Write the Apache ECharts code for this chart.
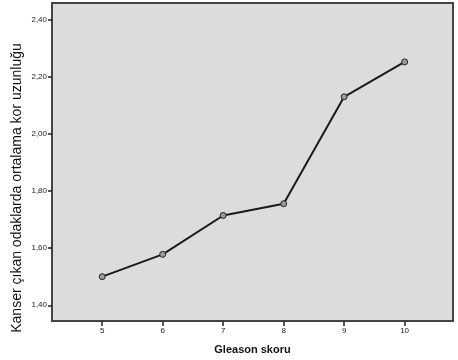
<!DOCTYPE html>
<html><head><meta charset="utf-8">
<script src="https://cdn.jsdelivr.net/npm/echarts@6/dist/echarts.min.js"></script>
<style>html,body{margin:0;padding:0;background:#fff}#c{width:458px;height:360px}</style>
</head><body><div id="c"></div>
<script>
var categories = [5, 6, 7, 8, 9, 10];
var values = [1.500, 1.578, 1.714, 1.755, 2.129, 2.251];
var yTicks = [1.40, 1.60, 1.80, 2.00, 2.20, 2.40];
var xTicks = [5, 6, 7, 8, 9, 10];
var yTitle = 'Kanser çıkan odaklarda ortalama kor uzunluğu';
var xTitle = 'Gleason skoru';

var chart = echarts.init(document.getElementById('c'), null, {renderer:'canvas'});
var data = categories.map(function(c,i){return [c, values[i]];});
chart.setOption({
  animation:false,
  backgroundColor:'#fff',
  grid:{left:52,right:5,top:3,bottom:38,show:true,backgroundColor:'#dcdcdc',borderColor:'#444',borderWidth:2},
  xAxis:{type:'value',min:4.17,max:10.8,
    name:xTitle,nameLocation:'middle',nameGap:23,
    nameTextStyle:{fontFamily:'Liberation Sans',fontSize:11,fontWeight:'bold',color:'#111'},
    axisLine:{show:false},
    axisTick:{show:true,length:5,customValues:xTicks,lineStyle:{color:'#222',width:1.5}},
    axisLabel:{customValues:xTicks,fontSize:8,color:'#222',margin:6,fontFamily:'Liberation Sans'},
    splitLine:{show:false}},
  yAxis:{type:'value',min:1.345,max:2.457,
    axisLine:{show:false},
    axisTick:{show:true,length:4,customValues:yTicks,lineStyle:{color:'#222',width:1.5}},
    axisLabel:{customValues:yTicks,fontSize:8,color:'#222',margin:5,fontFamily:'Liberation Sans',
      formatter:function(v){return v.toFixed(2).replace('.',',');}},
    splitLine:{show:false}},
  graphic:[{type:'text',x:17,y:188,rotation:Math.PI/2,
    style:{text:yTitle,fontFamily:'Liberation Sans',fontSize:14,fill:'#111',align:'center',verticalAlign:'middle'}}],
  series:[{type:'line',data:data,symbol:'circle',symbolSize:6,
    lineStyle:{color:'#1a1a1a',width:2},
    itemStyle:{color:'#9a9a9a',borderColor:'#222',borderWidth:1}}]
});
</script></body></html>
